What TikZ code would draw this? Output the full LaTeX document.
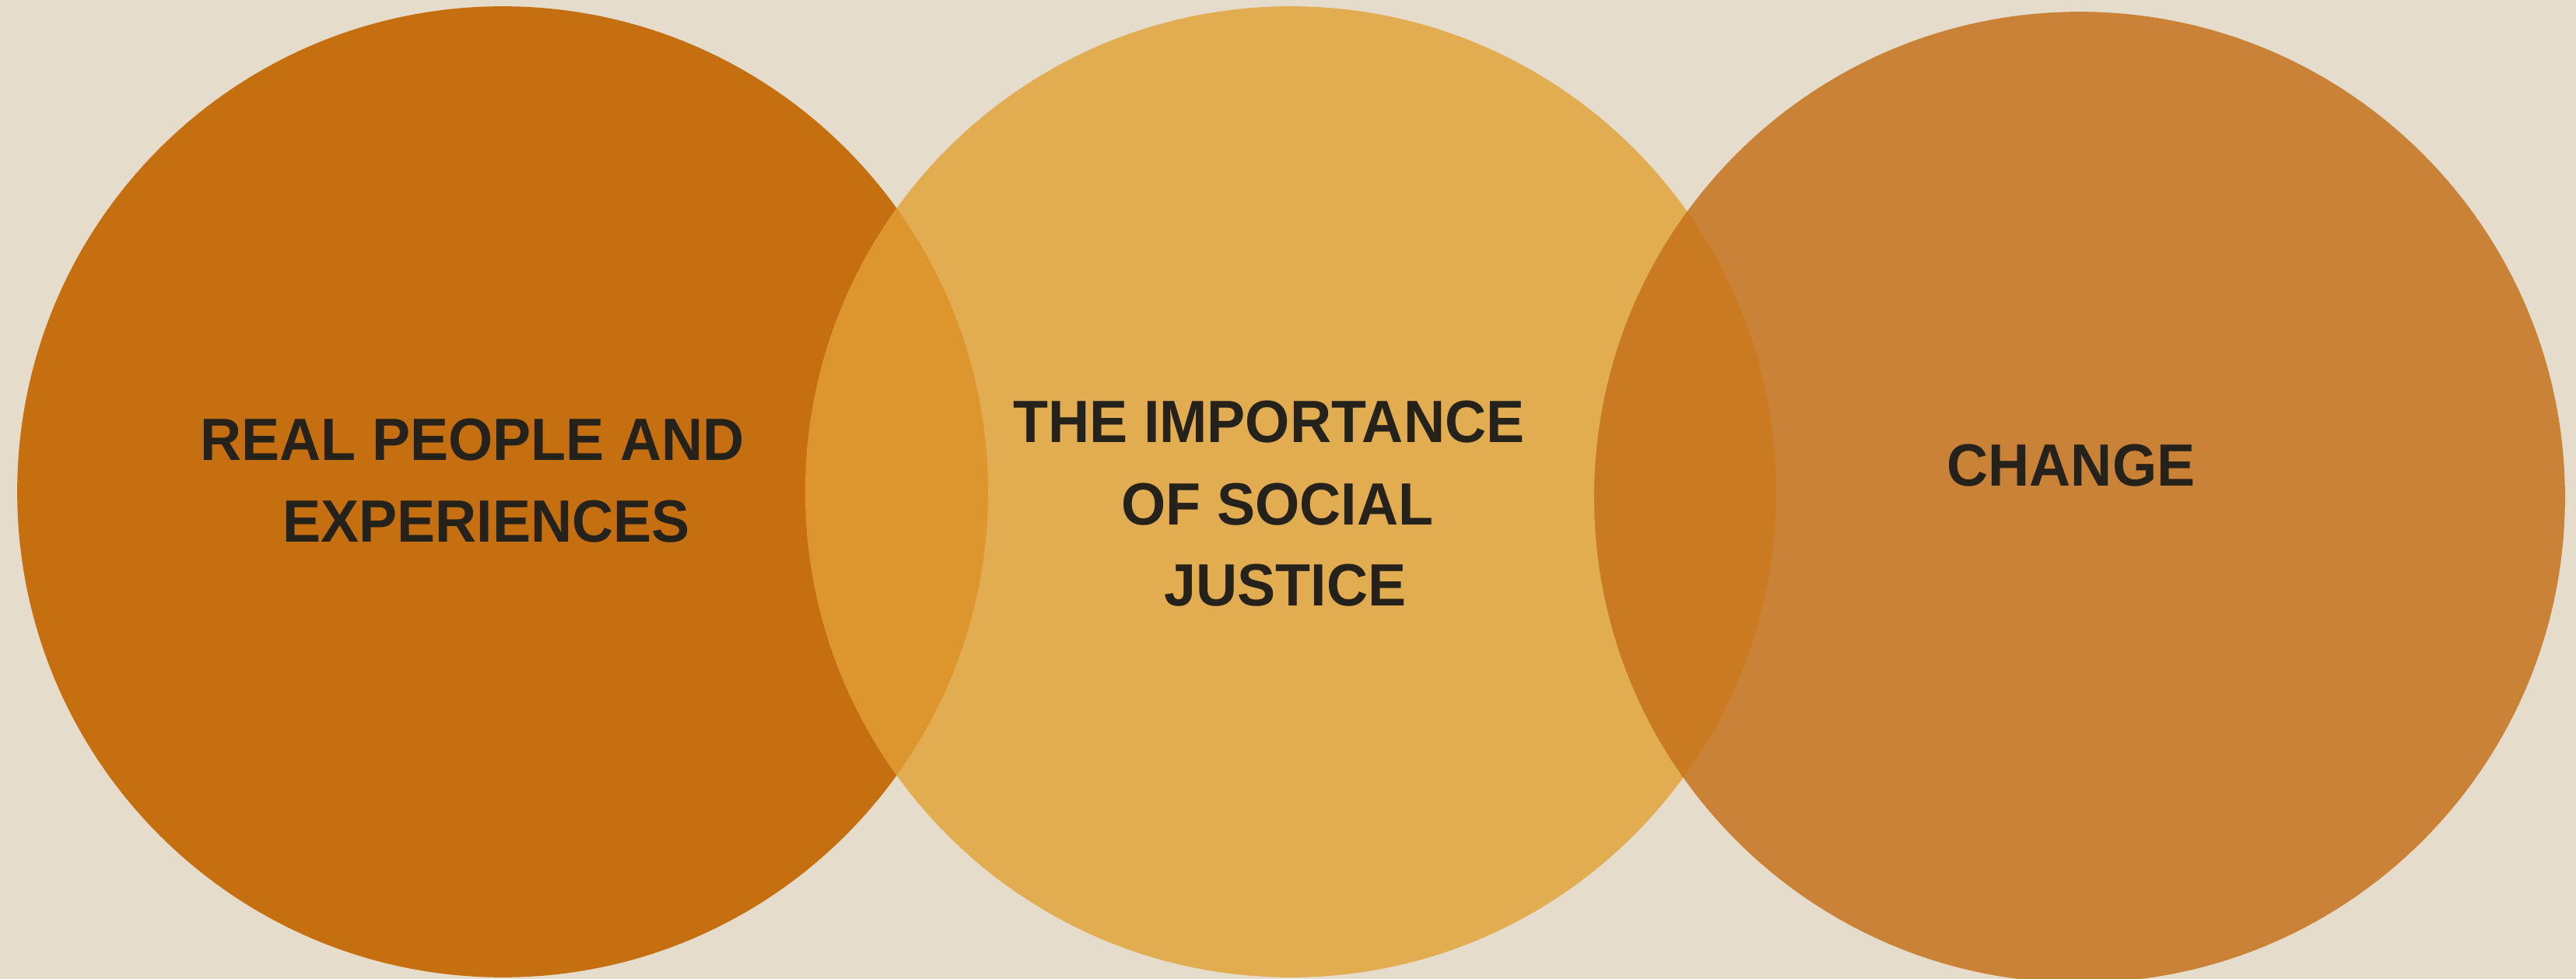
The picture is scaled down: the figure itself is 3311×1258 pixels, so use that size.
\documentclass[tikz,border=0pt]{standalone}
\usepackage{fontspec}
\usepackage{graphicx}
\setmainfont{Liberation Sans}
\definecolor{bgc}{HTML}{E5DCCB}
\definecolor{cleft}{HTML}{C56F11}
\definecolor{cmid}{HTML}{E2AC50}
\definecolor{cright}{HTML}{CA8237}
\definecolor{olm}{HTML}{DD962D}
\definecolor{omr}{HTML}{CA7A20}
\definecolor{txt}{HTML}{25211B}
\newcommand{\condtext}[1]{\scalebox{0.96}[1]{#1}}
\begin{document}
\begin{tikzpicture}[x=0.01cm,y=-0.01cm,
  disc/.style={circle,inner sep=0pt,minimum size=12.47cm,draw=none},
  lbl/.style={anchor=base,inner sep=0pt,text=txt,font=\bfseries\fontsize{21.8pt}{29.6pt}\selectfont}]
\fill[bgc] (0,0) rectangle (3311,1258);
\useasboundingbox (0,0) rectangle (3311,1258);
\node[disc,fill=cleft] (L) at (646,632) {};
\node[disc,fill=cmid] (M) at (1659,632) {};
\node[disc,fill=cright] (R) at (2673,639) {};
\begin{scope}
  \clip (646,632) circle[radius=6.235cm];
  \fill[olm] (1659,632) circle[radius=6.235cm];
\end{scope}
\begin{scope}
  \clip (1659,632) circle[radius=6.235cm];
  \fill[omr] (2673,639) circle[radius=6.235cm];
\end{scope}
\node[lbl] (t1) at (607,592) {\condtext{REAL PEOPLE AND}};
\node[lbl] (t2) at (625,696) {\condtext{EXPERIENCES}};
\node[lbl] (t3) at (1631,569) {\condtext{THE IMPORTANCE}};
\node[lbl] (t4) at (1642,674) {\condtext{OF SOCIAL}};
\node[lbl] (t5) at (1652,778) {\condtext{JUSTICE}};
\node[lbl] (t6) at (2662,624) {\condtext{CHANGE}};
\end{tikzpicture}
\end{document}
